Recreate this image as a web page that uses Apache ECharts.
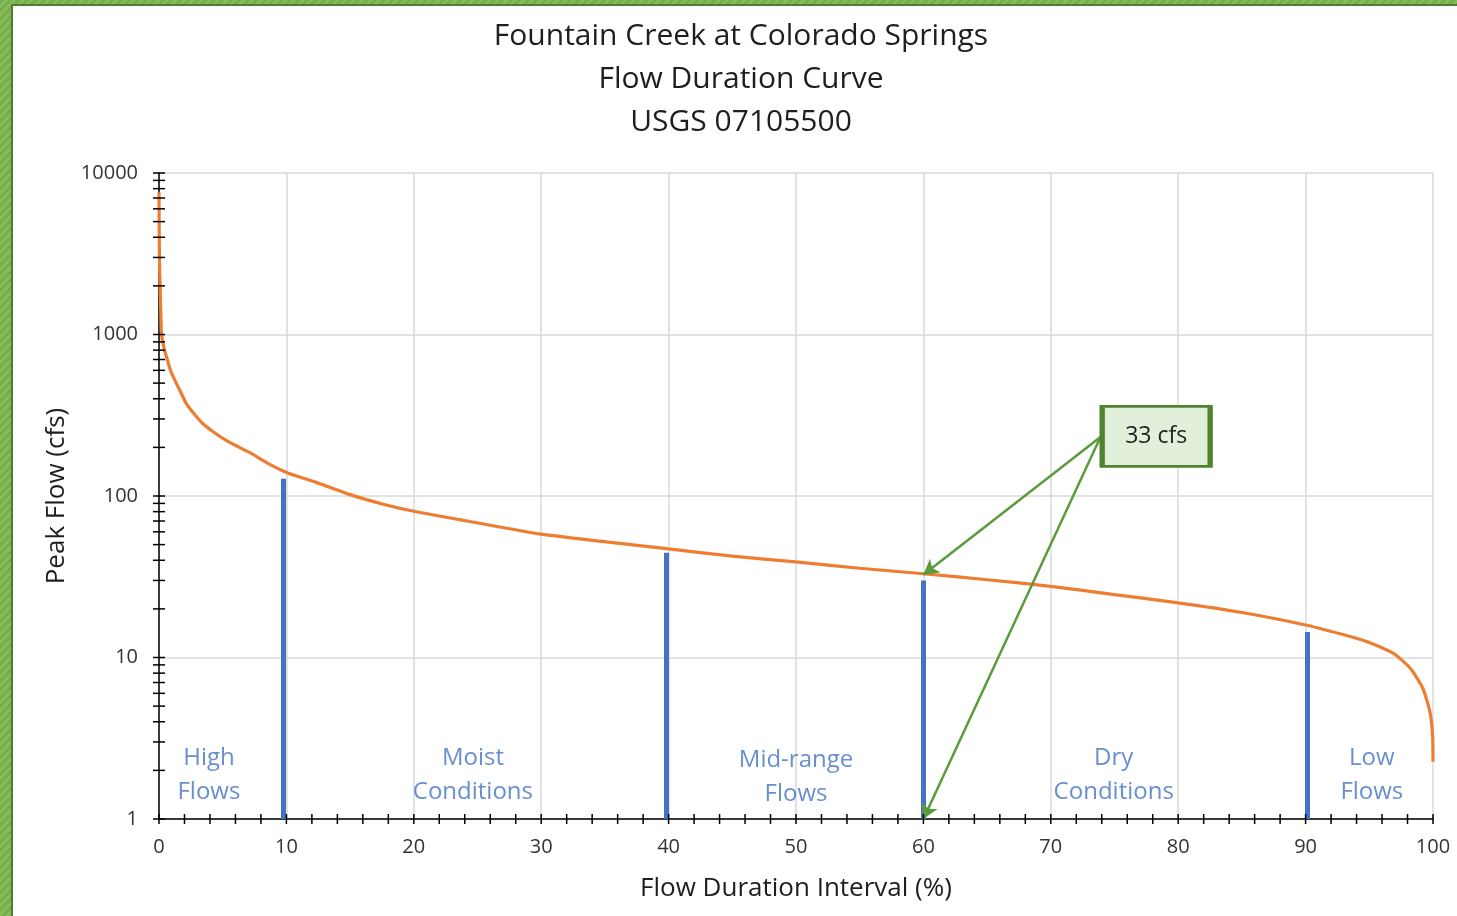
<!DOCTYPE html>
<html>
<head>
<meta charset="utf-8">
<script src="https://cdn.jsdelivr.net/npm/echarts@6/dist/echarts.min.js"></script>
<style>
  html, body { margin:0; padding:0; width:1457px; height:916px; overflow:hidden;
    background: repeating-linear-gradient(135deg, #78ad4c 0 3px, #86bb5a 3px 6px); }
  #frame { position:absolute; left:11px; top:4px; width:1444px; height:910px;
    border-left:2px solid #4f7f2e; border-top:2px solid #4f7f2e; background:#fff; }
  #chart { position:absolute; left:0; top:0; width:1444px; height:910px; }
</style>
</head>
<body>
<div id="frame"><div id="chart"></div></div>
<script>
// ---- data ----
const titleLines = ['Fountain Creek at Colorado Springs', 'Flow Duration Curve', 'USGS 07105500'];
const xAxisName = 'Flow Duration Interval (%)';
const yAxisName = 'Peak Flow (cfs)';

// flow duration curve: exceedance percent and flow (cfs)
const curvePct = [0, 0.02, 0.05, 0.08, 0.15, 0.2, 0.4, 0.6, 0.9, 1.26, 1.7, 2.17, 2.8, 3.48, 4.3, 5.3, 6.2, 7.1, 8.7, 10,
  12.4, 15, 17.6, 20, 24.2, 30, 35.1, 40, 45, 50, 55, 60, 65, 70, 75, 80, 85, 90, 93.5, 95, 96.9, 98.2, 99.2, 99.76, 99.97, 100];
const curveFlow = [7600, 4000, 2500, 2100, 1300, 1000, 820, 720, 600, 518, 440, 371, 320, 279, 248, 220, 202, 186, 157, 140,
  121, 102, 89, 80.5, 70, 58, 52, 47.1, 42.4, 39.1, 35.7, 33, 30.3, 27.6, 24.5, 21.8, 19, 15.9, 13.5, 12.4, 10.6, 8.6, 6.45, 4.6, 3.3, 2.26];

// blue divider bars between flow zones
const dividerPct = [9.75, 39.85, 60, 90.1];
const dividerTop = [128, 44.5, 30, 14.4];

// zone labels
const zoneLabels = ['High\nFlows', 'Moist\nConditions', 'Mid-range\nFlows', 'Dry\nConditions', 'Low\nFlows'];
const zonePct = [3.92, 24.64, 50, 74.94, 95.2];
const zoneFlow = [1.877, 1.877, 1.824, 1.877, 1.877];

// callout
const calloutText = '33 cfs';
const calloutPos = [78.27, 234];
const arrowStart = [73.9, 232];
const arrowEnds = [[60, 32.5], [60, 1]];

// axis tick values
const xTickVals = [0,2,4,6,8,10,12,14,16,18,20,22,24,26,28,30,32,34,36,38,40,42,44,46,48,50,52,54,56,58,60,62,64,66,68,70,72,74,76,78,80,82,84,86,88,90,92,94,96,98,100];
const yTickVals = [1,2,3,4,5,6,7,8,9,10,20,30,40,50,60,70,80,90,100,200,300,400,500,600,700,800,900,1000,2000,3000,4000,5000,6000,7000,8000,9000,10000];

// ---- chart ----
const chart = echarts.init(document.getElementById('chart'));
const FONT = '"Open Sans", sans-serif';

const tickData = [];
yTickVals.forEach(v => tickData.push([0, v, 0]));
xTickVals.forEach(v => tickData.push([v, 1, 1]));

chart.setOption({
  animation: false,
  backgroundColor: '#fff',
  title: {
    text: titleLines.join('\n'),
    left: 728, top: 9, padding: 0, textAlign: 'center',
    textStyle: { fontFamily: FONT, fontSize: 30, fontWeight: 'normal', color: '#1e1e1e', lineHeight: 43 }
  },
  grid: { left: 146, right: 24, top: 167, bottom: 97 },
  xAxis: {
    type: 'value', min: 0, max: 100, interval: 10,
    name: xAxisName, nameLocation: 'middle', nameGap: 57,
    nameTextStyle: { fontFamily: FONT, fontSize: 26, color: '#1e1e1e' },
    axisLine: { lineStyle: { color: '#000', width: 1.5 } },
    axisTick: { show: false },
    axisLabel: { fontFamily: FONT, fontSize: 20, color: '#333', margin: 18 },
    splitLine: { show: true, lineStyle: { color: '#d9d9d9', width: 1.5 } }
  },
  yAxis: {
    type: 'log', logBase: 10, min: 1, max: 10000,
    name: yAxisName, nameLocation: 'middle', nameGap: 89,
    nameTextStyle: { fontFamily: FONT, fontSize: 26, color: '#1e1e1e' },
    axisLine: { show: true, lineStyle: { color: '#000', width: 1.5 } },
    axisTick: { show: false },
    axisLabel: { fontFamily: FONT, fontSize: 20, color: '#333', margin: 21,
      formatter: v => String(Math.round(v)) },
    splitLine: { show: true, lineStyle: { color: '#d9d9d9', width: 1.5 } }
  },
  series: [
    {
      type: 'line', name: 'curve',
      data: curvePct.map((p, i) => [p, curveFlow[i]]),
      showSymbol: false, smooth: 0.2,
      lineStyle: { color: '#ED7D31', width: 3.2 },
      z: 3
    },
    {
      type: 'line', name: 'dividers', data: [], showSymbol: false,
      markLine: {
        silent: true, symbol: ['none', 'none'], label: { show: false },
        lineStyle: { color: '#4472C4', width: 5, type: 'solid' },
        data: dividerPct.map((p, i) => [{ coord: [p, 1] }, { coord: [p, dividerTop[i]] }])
      },
      z: 4
    },
    {
      type: 'scatter', name: 'zones', symbolSize: 0,
      data: zonePct.map((p, i) => [p, zoneFlow[i], zoneLabels[i]]),
      label: { show: true, position: 'inside', formatter: p => p.data[2],
        fontFamily: FONT, fontSize: 24, color: '#4472C4', lineHeight: 34, align: 'center', verticalAlign: 'middle' },
      z: 5
    },
    {
      type: 'line', name: 'callout', data: [], showSymbol: false,
      markLine: {
        silent: true, symbol: ['none', 'arrow'], symbolSize: [13, 15], label: { show: false },
        lineStyle: { color: '#5B9B3C', width: 2.5, type: 'solid' },
        data: arrowEnds.map(e => [{ coord: arrowStart }, { coord: e }])
      },
      markPoint: {
        silent: true, symbol: 'rect', symbolSize: [108, 60],
        itemStyle: { color: '#E2EFDA', borderColor: '#4f8330', borderWidth: 4 },
        label: { show: true, position: 'inside', formatter: calloutText,
          fontFamily: FONT, fontSize: 23, color: '#222' },
        data: [{ coord: calloutPos }]
      },
      z: 6
    },
    {
      type: 'custom', name: 'ticks', data: tickData, clip: false, silent: true, z: 7,
      renderItem: (params, api) => {
        const p = api.coord([api.value(0), api.value(1)]);
        const isX = api.value(2) === 1;
        const shape = isX
          ? { x1: p[0], y1: p[1] - 5, x2: p[0], y2: p[1] + 5 }
          : { x1: p[0] - 6, y1: p[1], x2: p[0] + 6, y2: p[1] };
        return { type: 'line', shape, style: { stroke: '#000', lineWidth: 1.5 } };
      }
    }
  ]
});
</script>
</body>
</html>
